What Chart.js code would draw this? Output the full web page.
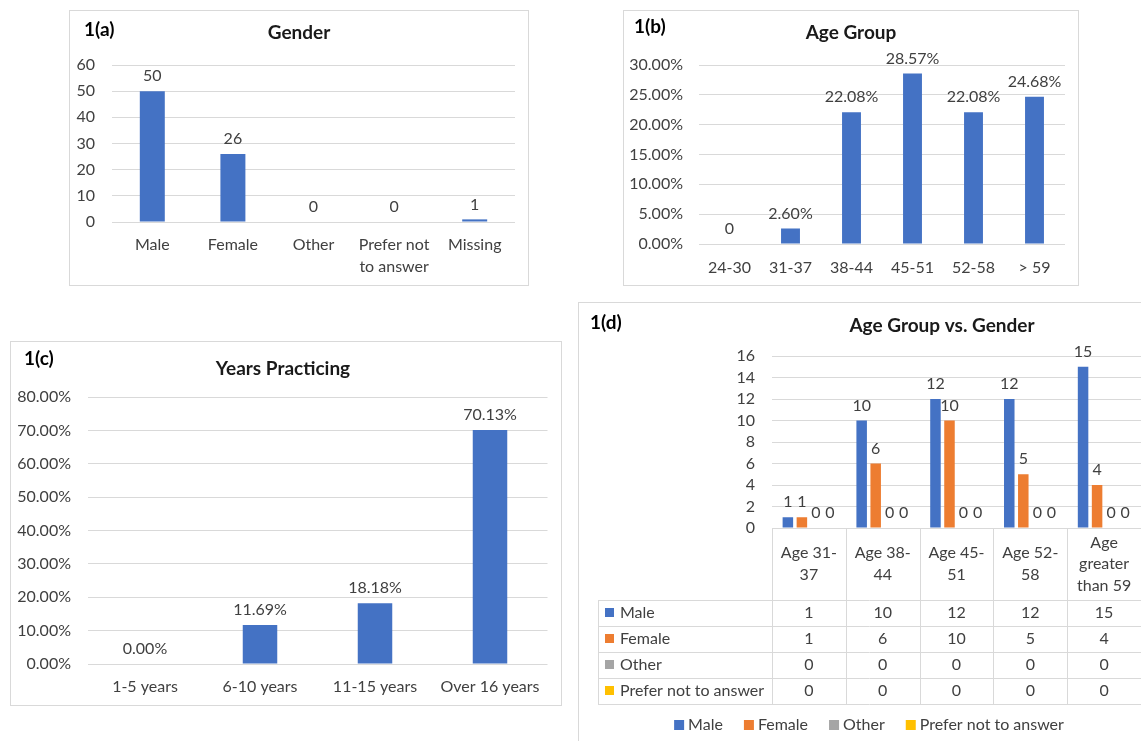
<!DOCTYPE html>
<html>
<head>
<meta charset="utf-8">
<script src="https://cdn.jsdelivr.net/npm/chart.js@4.4.1/dist/chart.umd.min.js"></script>
<style>
  body { margin: 0; width: 1141px; height: 741px; overflow: hidden; background: #fff; position: relative; font-family: Lato, sans-serif; }
  .frame { position: absolute; border: 1px solid #d9d9d9; box-sizing: border-box; }
  .box { position: absolute; }
</style>
</head>
<body>
<div class="frame" style="left:69px;top:10px;width:460px;height:276px"></div>
<div class="box" style="left:69px;top:10px;width:460px;height:276px"><canvas id="genderChart"></canvas></div>

<div class="frame" style="left:623px;top:10px;width:456px;height:276px"></div>
<div class="box" style="left:623px;top:10px;width:456px;height:276px"><canvas id="ageChart"></canvas></div>

<div class="frame" style="left:10px;top:341px;width:552px;height:365px"></div>
<div class="box" style="left:10px;top:341px;width:552px;height:365px"><canvas id="yearsChart"></canvas></div>

<div class="frame" style="left:578px;top:302px;width:580px;height:460px"></div>
<div class="box" style="left:578px;top:302px;width:570px;height:450px"><canvas id="mixChart"></canvas></div>

<script>
// 1(a) Gender
const genderLabels = ['Male', 'Female', 'Other', ['Prefer not', 'to answer'], 'Missing'];
const genderCounts = [50, 26, 0, 0, 1];
const genderTicks = [0, 10, 20, 30, 40, 50, 60];

// 1(b) Age group (%)
const ageLabels = ['24-30', '31-37', '38-44', '45-51', '52-58', '> 59'];
const agePercent = [0, 2.60, 22.08, 28.57, 22.08, 24.68];
const ageTicks = [0, 5, 10, 15, 20, 25, 30];

// 1(c) Years practicing (%)
const yearsLabels = ['1-5 years', '6-10 years', '11-15 years', 'Over 16 years'];
const yearsPercent = [0, 11.69, 18.18, 70.13];
const yearsTicks = [0, 10, 20, 30, 40, 50, 60, 70, 80];

// 1(d) Age group vs gender
const mixLabels = [['Age 31-', '37'], ['Age 38-', '44'], ['Age 45-', '51'], ['Age 52-', '58'], ['Age', 'greater', 'than 59']];
const mixSeries = ['Male', 'Female', 'Other', 'Prefer not to answer'];
const mixMale = [1, 10, 12, 12, 15];
const mixFemale = [1, 6, 10, 5, 4];
const mixOther = [0, 0, 0, 0, 0];
const mixPrefer = [0, 0, 0, 0, 0];
const mixTicks = [0, 2, 4, 6, 8, 10, 12, 14, 16];

const BLUE = '#4472C4', ORANGE = '#ED7D31', GRAY = '#A5A5A5', YELLOW = '#FFC000';
const FONT = 'Lato';
const TEXT = '#404040';

function valueLabels(fmt) {
  return {
    id: 'valueLabels',
    afterDatasetsDraw(chart) {
      const c = chart.ctx;
      c.save();
      c.font = '16px ' + FONT;
      c.fillStyle = TEXT;
      c.textAlign = 'center';
      c.textBaseline = 'middle';
      chart.data.datasets.forEach((ds, di) => {
        chart.getDatasetMeta(di).data.forEach((bar, i) => {
          c.fillText(fmt(ds.data[i]), bar.x, bar.y - 15);
        });
      });
      c.restore();
    }
  };
}

function panelText(tag, tx, ty, title, cx, cy) {
  return {
    id: 'panelText',
    afterDraw(chart) {
      const c = chart.ctx;
      c.save();
      c.textBaseline = 'middle';
      c.fillStyle = '#000';
      c.font = 'bold 19px ' + FONT;
      c.textAlign = 'left';
      c.fillText(tag, tx, ty);
      c.fillStyle = '#1a1a1a';
      c.font = 'bold 19px ' + FONT;
      c.textAlign = 'center';
      c.fillText(title, cx, cy);
      c.restore();
    }
  };
}

function baseOptions(p) {
  return {
    responsive: true,
    maintainAspectRatio: false,
    animation: false,
    events: [],
    layout: { padding: { top: p.top, right: p.right, bottom: p.bottom || 0, left: 0 } },
    plugins: { legend: { display: false }, tooltip: { enabled: false }, title: { display: false } },
    scales: {
      x: {
        grid: { display: false, drawTicks: false, tickLength: 0 },
        border: { display: false },
        ticks: {
          display: p.xTicks !== false,
          color: TEXT,
          font: { size: 16, family: FONT, lineHeight: 1.36 },
          padding: p.xPad || 0,
          maxRotation: 0,
          autoSkip: false
        },
        afterFit: a => { a.height = p.xH; }
      },
      y: {
        min: p.ticks[0],
        max: p.ticks[p.ticks.length - 1],
        grid: { color: '#d9d9d9', drawTicks: false },
        border: { display: false },
        ticks: { color: TEXT, font: { size: 16, family: FONT }, padding: p.yPad, autoSkip: false, callback: p.yFmt },
        afterBuildTicks: a => { a.ticks = p.ticks.map(v => ({ value: v })); },
        afterFit: a => { a.width = p.yW; }
      }
    }
  };
}

const pct = v => Number(v).toFixed(2) + '%';

new Chart(document.getElementById('genderChart'), {
  type: 'bar',
  data: {
    labels: genderLabels,
    datasets: [{ data: genderCounts, backgroundColor: BLUE, barPercentage: 0.31, categoryPercentage: 1 }]
  },
  options: baseOptions({ top: 55, right: 14, xH: 64, xPad: 12, yW: 43, yPad: 17, ticks: genderTicks, yFmt: v => v }),
  plugins: [valueLabels(v => String(v)), panelText('1(a)', 15, 20, 'Gender', 230, 23)]
});

new Chart(document.getElementById('ageChart'), {
  type: 'bar',
  data: {
    labels: ageLabels,
    datasets: [{ data: agePercent, backgroundColor: BLUE, barPercentage: 0.31, categoryPercentage: 1 }]
  },
  options: baseOptions({ top: 55, right: 14, xH: 42, xPad: 13, yW: 76, yPad: 16, ticks: ageTicks, yFmt: pct }),
  plugins: [valueLabels(v => v === 0 ? '0' : pct(v)), panelText('1(b)', 11, 17, 'Age Group', 228, 23)]
});

new Chart(document.getElementById('yearsChart'), {
  type: 'bar',
  data: {
    labels: yearsLabels,
    datasets: [{ data: yearsPercent, backgroundColor: BLUE, barPercentage: 0.3, categoryPercentage: 1 }]
  },
  options: baseOptions({ top: 56, right: 14.5, xH: 42, xPad: 12, yW: 77.5, yPad: 16.5, ticks: yearsTicks, yFmt: pct }),
  plugins: [valueLabels(pct), panelText('1(c)', 14, 18, 'Years Practicing', 273, 28)]
});

const mixData = [mixMale, mixFemale, mixOther, mixPrefer];
const mixColors = [BLUE, ORANGE, GRAY, YELLOW];

const dataTable = {
  id: 'dataTable',
  afterDraw(chart) {
    const c = chart.ctx, x = chart.scales.x, area = chart.chartArea;
    const n = mixLabels.length, colW = (x.right - x.left) / n;
    const top = area.bottom, headH = 72, rowH = 26, tableLeft = 20;
    const bottom = top + headH + rowH * mixSeries.length;
    c.save();
    c.strokeStyle = '#d9d9d9';
    c.lineWidth = 1;
    c.beginPath();
    for (let i = 0; i <= n; i++) {
      const xx = Math.round(x.left + i * colW) + 0.5;
      c.moveTo(xx, top); c.lineTo(xx, bottom);
    }
    for (let r = 0; r <= mixSeries.length; r++) {
      const yy = Math.round(top + headH + r * rowH) + 0.5;
      c.moveTo(tableLeft, yy); c.lineTo(x.right, yy);
    }
    c.moveTo(tableLeft + 0.5, top + headH); c.lineTo(tableLeft + 0.5, bottom);
    c.stroke();

    c.font = '16px ' + FONT;
    c.fillStyle = TEXT;
    c.textBaseline = 'middle';
    c.textAlign = 'center';
    const lh = 21.5;
    mixLabels.forEach((lines, i) => {
      const cx = x.left + (i + 0.5) * colW;
      const y0 = top + headH / 2 - (lines.length - 1) * lh / 2;
      lines.forEach((t, k) => c.fillText(t, cx, y0 + k * lh));
    });
    mixSeries.forEach((name, r) => {
      const cy = top + headH + (r + 0.5) * rowH;
      c.fillStyle = mixColors[r];
      c.fillRect(tableLeft + 7, cy - 5, 9, 9);
      c.fillStyle = TEXT;
      c.textAlign = 'left';
      c.fillText(name, tableLeft + 22, cy);
      c.textAlign = 'center';
      mixData[r].forEach((v, i) => c.fillText(String(v), x.left + (i + 0.5) * colW, cy));
    });

    // legend
    const ly = bottom + 21;
    const widths = mixSeries.map(s => c.measureText(s).width);
    const total = widths.reduce((s, w) => s + 14 + w, 0) + 21 * (mixSeries.length - 1);
    let lx = 291 - total / 2;
    c.textAlign = 'left';
    mixSeries.forEach((s, i) => {
      c.fillStyle = mixColors[i];
      c.fillRect(lx, ly - 5, 10, 10);
      c.fillStyle = TEXT;
      c.fillText(s, lx + 14, ly);
      lx += 14 + widths[i] + 21;
    });
    c.restore();
  }
};

new Chart(document.getElementById('mixChart'), {
  type: 'bar',
  data: {
    labels: mixLabels,
    datasets: mixSeries.map((name, i) => ({
      label: name, data: mixData[i], backgroundColor: mixColors[i],
      barPercentage: 0.75, categoryPercentage: 0.76
    }))
  },
  options: baseOptions({ top: 54, right: 7, bottom: 48, xH: 176, xTicks: false, yW: 194, yPad: 17, ticks: mixTicks, yFmt: v => v }),
  plugins: [valueLabels(v => String(v)), dataTable, panelText('1(d)', 12, 21, 'Age Group vs. Gender', 364, 24)]
});
</script>
</body>
</html>
